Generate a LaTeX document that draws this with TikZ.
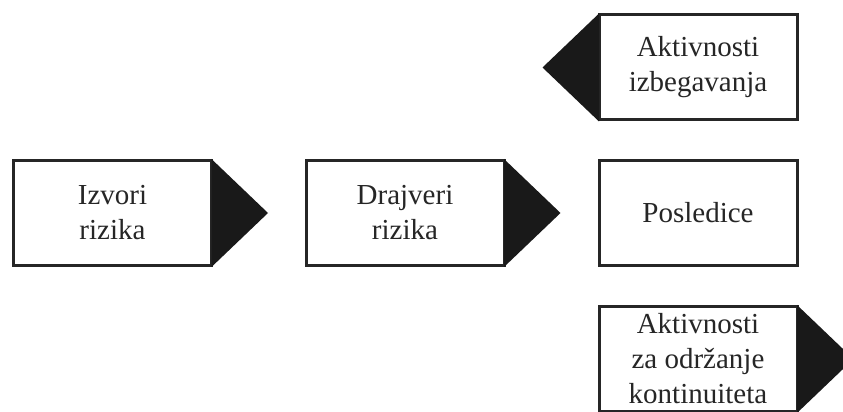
\documentclass[tikz,border=0pt]{standalone}
\usepackage{fontspec}
\setmainfont{Liberation Serif}
\usepackage{tikz}

\tikzset{
  riskbox/.style={draw=black!85, line width=3pt, fill=white, text=black!85,
    minimum width=198pt, minimum height=105pt, inner sep=0pt, align=center,
    font=\fontsize{29}{35}\selectfont},
  pointer/.style={fill=black!90}
}

\begin{document}
\begin{tikzpicture}[x=1pt,y=1pt]
  \clip (0,0) rectangle (843,412);

  %main chain
  \node[riskbox] (izvori) at (112.5,199) {Izvori\\rizika};
  \node[riskbox] (drajveri) at (405,199) {Drajveri\\rizika};
  \node[riskbox] (posledice) at (698,199) {Posledice};

  %side activities
  \node[riskbox] (izbegavanje) at (698,344.5) {Aktivnosti\\izbegavanja};
  \node[riskbox] (kontinuitet) at (698,53) {Aktivnosti\\za održanje\\kontinuiteta};

  %pointers (start inside the border so no seam shows)
  \fill[pointer] ([xshift=-1.5pt]izvori.north east) -- ([xshift=55pt]izvori.east) -- ([xshift=-1.5pt]izvori.south east) -- cycle;
  \fill[pointer] ([xshift=-1.5pt]drajveri.north east) -- ([xshift=55pt]drajveri.east) -- ([xshift=-1.5pt]drajveri.south east) -- cycle;
  \fill[pointer] ([xshift=1.5pt]izbegavanje.north west) -- ([xshift=-55pt]izbegavanje.west) -- ([xshift=1.5pt]izbegavanje.south west) -- cycle;
  \fill[pointer] ([xshift=-1.5pt]kontinuitet.north east) -- ([xshift=55pt]kontinuitet.east) -- ([xshift=-1.5pt]kontinuitet.south east) -- cycle;
\end{tikzpicture}
\end{document}
